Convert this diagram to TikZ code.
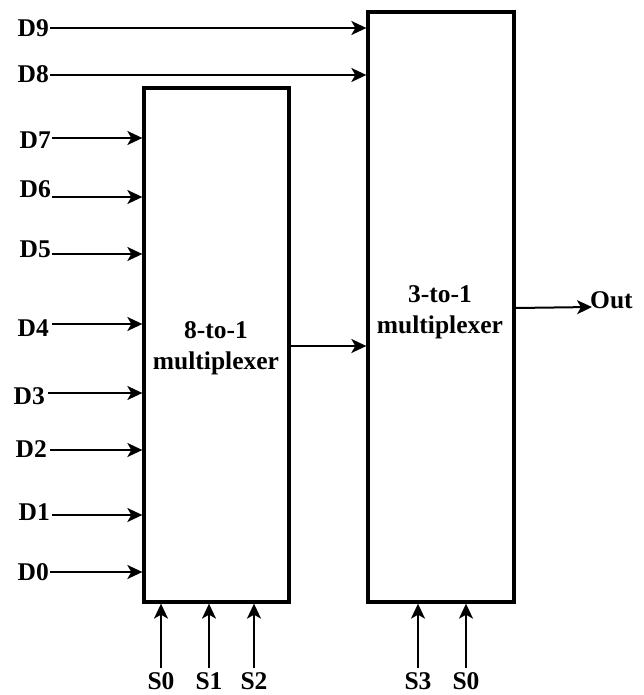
\documentclass[tikz,border=0pt]{standalone}
\usepackage{fontspec}
\setmainfont{Liberation Serif}
\usetikzlibrary{arrows.meta}
\begin{document}
\begin{tikzpicture}[x=1pt,y=-1pt,
  lbl/.style={font=\fontsize{25.5}{30}\selectfont\bfseries, inner sep=0pt},
  muxbox/.style={draw, line width=3.3pt, inner sep=0pt},
  muxtext/.style={align=center, inner sep=0pt, font=\fontsize{25.5}{31}\selectfont\bfseries},
  arr/.style={line width=2pt, -{Stealth[length=15pt,width=14pt,inset=4pt]}}]
\useasboundingbox (0,0) rectangle (644,695);
\node[muxbox, minimum width=145pt, minimum height=514pt] (m1) at (216.5,345) {};
\node[muxbox, minimum width=146pt, minimum height=590pt] (m2) at (441,307) {};
\node[muxtext] (t1) at (216,348) {8-to-1\\multiplexer};
\node[muxtext] (t2) at (440,312) {3-to-1\\multiplexer};
% inputs
\node[lbl, anchor=east] (d9) at (49,28) {D9};
\node[lbl, anchor=east] (d8) at (49,74) {D8};
\node[lbl, anchor=east] (d7) at (51,140) {D7};
\node[lbl, anchor=east] (d6) at (51,189) {D6};
\node[lbl, anchor=east] (d5) at (51,249) {D5};
\node[lbl, anchor=east] (d4) at (49,328) {D4};
\node[lbl, anchor=east] (d3) at (45,396) {D3};
\node[lbl, anchor=east] (d2) at (47,449) {D2};
\node[lbl, anchor=east] (d1) at (50,512) {D1};
\node[lbl, anchor=east] (d0) at (49,572) {D0};
\coordinate (i9) at (50,28);
\coordinate (i8) at (50,75);
\coordinate (i7) at (52,138);
\coordinate (i6) at (52,197);
\coordinate (i5) at (52,254);
\coordinate (i4) at (52,324);
\coordinate (i3) at (48,393);
\coordinate (i2) at (50,450);
\coordinate (i1) at (52,515);
\coordinate (i0) at (50,572);
\foreach \i in {9,8}{\draw[arr] (i\i) -- (i\i -| m2.west);}
\foreach \i in {7,6,5,4,3,2,1,0}{\draw[arr] (i\i) -- (i\i -| m1.west);}
% between muxes
\coordinate (c12) at (289,346);
\draw[arr] (c12 -| m1.east) -- (c12 -| m2.west);
% output
\node[lbl, anchor=west] (out) at (590,300) {Out};
\coordinate (o1) at (514,308);
\coordinate (o2) at (592,307);
\draw[arr] (o1 -| m2.east) -- (o2);
% selects
\node[lbl, anchor=base] (s0a) at (161,689) {S0};
\node[lbl, anchor=base] (s1) at (209,689) {S1};
\node[lbl, anchor=base] (s2) at (254,689) {S2};
\node[lbl, anchor=base] (s3) at (418,689) {S3};
\node[lbl, anchor=base] (s0b) at (466,689) {S0};
\foreach \s/\x in {s0a/161,s1/209,s2/254}{\draw[arr] (\x,668) -- (\x,0 |- m1.south);}
\foreach \s/\x in {s3/418,s0b/466}{\draw[arr] (\x,668) -- (\x,0 |- m2.south);}
\end{tikzpicture}
\end{document}
